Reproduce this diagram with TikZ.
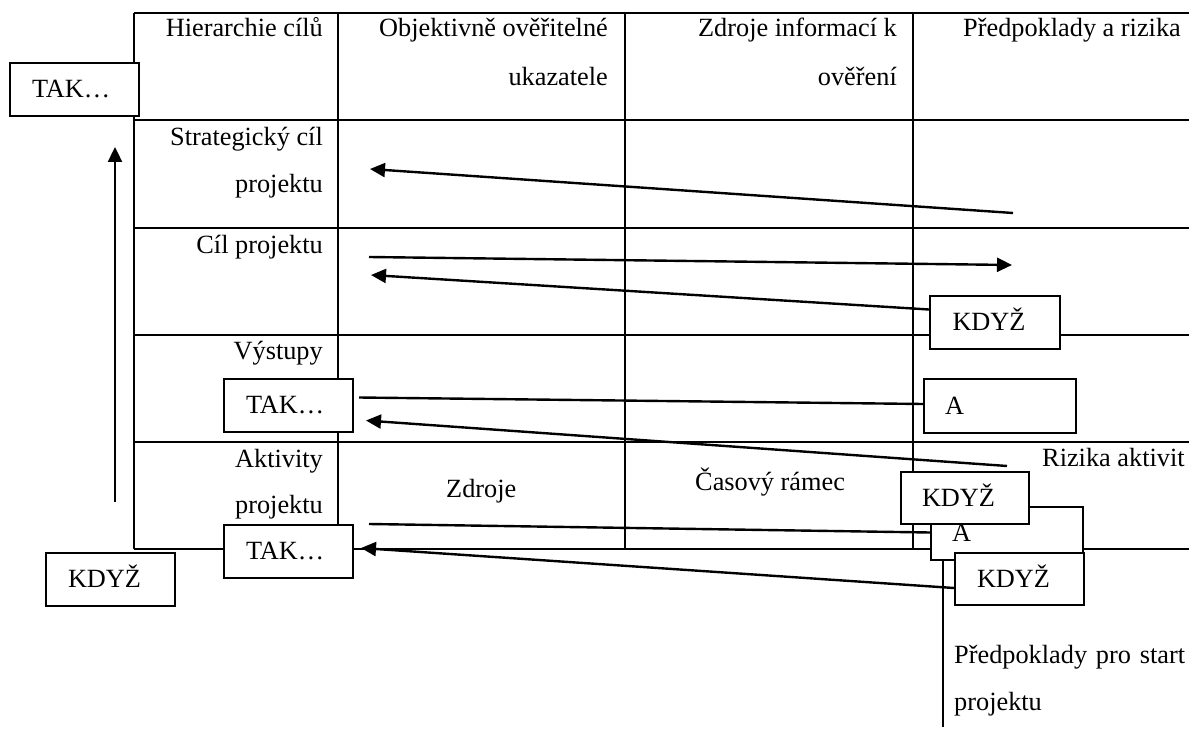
\documentclass[tikz,border=0pt]{standalone}
\usepackage{fontspec}
\setmainfont{Liberation Serif}
\usetikzlibrary{arrows.meta}
\begin{document}
\begin{tikzpicture}[x=1pt,y=-1pt,
  every node/.style={font=\fontsize{26.3pt}{31pt}\selectfont, inner sep=0pt},
  tbl/.style={line width=2.6pt},
  box/.style={draw, line width=2pt, fill=white, minimum width=129pt, minimum height=53pt,
    inner xsep=22pt, inner ysep=0pt, text width=85pt, align=left, text height=16pt, text depth=0pt, anchor=north west},
  abox/.style={box, minimum width=152pt, text width=110pt, inner xsep=21pt, minimum height=54pt},
  conn/.style={line width=2.4pt},
  arr/.style={conn, -{Triangle[length=15pt,width=14pt]}},
  lbl/.style={anchor=base east},
  lbw/.style={anchor=base west}]
\useasboundingbox (0,0) rectangle (1189,730);
% table grid
\draw[tbl] (134,13) -- (1189,13);
\draw[tbl] (134,120) -- (1189,120);
\draw[tbl] (134,228) -- (1189,228);
\draw[tbl] (134,335) -- (1189,335);
\draw[tbl] (134,442) -- (1189,442);
\draw[tbl] (134,549) -- (1189,549);
\draw[tbl] (134,13) -- (134,549);
\draw[tbl] (338,13) -- (338,549);
\draw[tbl] (625,13) -- (625,549);
\draw[tbl] (913,13) -- (913,549);
% vertical line for start assumptions
\coordinate (v1) at (943,558);
\coordinate (v2) at (943,727);
\draw[conn] (v1) -- (v2);
% texts
\node[lbl] (h1) at (323,37) {Hierarchie cílů};
\node[lbl] (h2a) at (608,37) {Objektivně ověřitelné};
\node[lbl] (h2b) at (608,86) {ukazatele};
\node[lbl] (h3a) at (897,37) {Zdroje informací k};
\node[lbl] (h3b) at (897,86) {ověření};
\node[lbw] (h4) at (963,37) {Předpoklady a rizika};
\node[lbl] (r1a) at (323,146) {Strategický cíl};
\node[lbl] (r1b) at (323,193) {projektu};
\node[lbl] (r2) at (323,254) {Cíl projektu};
\node[lbl] (r3) at (323,359) {Výstupy};
\node[lbl] (r4a) at (323,467) {Aktivity};
\node[lbl] (r4b) at (323,513) {projektu};
\node[lbw] (zd) at (446,497) {Zdroje};
\node[lbw] (cr) at (695,490) {Časový rámec};
\node[lbw] (ra) at (1042,466) {Rizika aktivit};
\node[lbw] (ps1) at (954,663) {\makebox[231pt][s]{Předpoklady pro start}};
\node[lbw] (ps2) at (954,710) {projektu};
% boxes
\node[box] (tak0) at (9,62) {TAK…};
\node[box] (kdyz0) at (45,552) {KDYŽ};
\node[box] (tak1) at (223,378) {TAK…};
\node[box] (tak2) at (223,524) {TAK…};
\node[box, minimum width=130pt] (kdyz1) at (929,295) {KDYŽ};
\node[abox] (a1) at (923,378) {A};
\node[abox, minimum width=151pt, minimum height=53pt] (a2) at (930,506) {A};
\node[box, minimum width=128pt, inner xsep=21pt, text width=86pt, minimum height=52pt] (kdyz2) at (900,471) {KDYŽ};
\node[box, minimum height=52pt] (kdyz3) at (954,552) {KDYŽ};
% connectors
\coordinate (s1) at (1013,213);
\coordinate (e1) at (370,169);
\draw[arr] (s1) -- (e1);
\coordinate (s2) at (369,257);
\coordinate (e2) at (1012,265);
\draw[arr] (s2) -- (e2);
\coordinate (e3) at (371,275);
\draw[arr] ([yshift=13pt]kdyz1.west) -- (e3);
\draw[conn] ([shift={(5pt,8pt)}]tak1.east) -- ([yshift=2pt]a1.west);
\coordinate (s4) at (1007,466);
\draw[arr] (s4) -- ([shift={(12pt,-15pt)}]tak1.east);
\coordinate (s6) at (369,524);
\draw[conn] (s6) -- ([yshift=1pt]a2.west);
\draw[arr] ([yshift=-9pt]kdyz3.west) -- ([shift={(7pt,3.5pt)}]tak2.east);
\coordinate (up1) at (115,502);
\coordinate (up2) at (115,147);
\draw[arr] (up1) -- (up2);
\end{tikzpicture}
\end{document}
